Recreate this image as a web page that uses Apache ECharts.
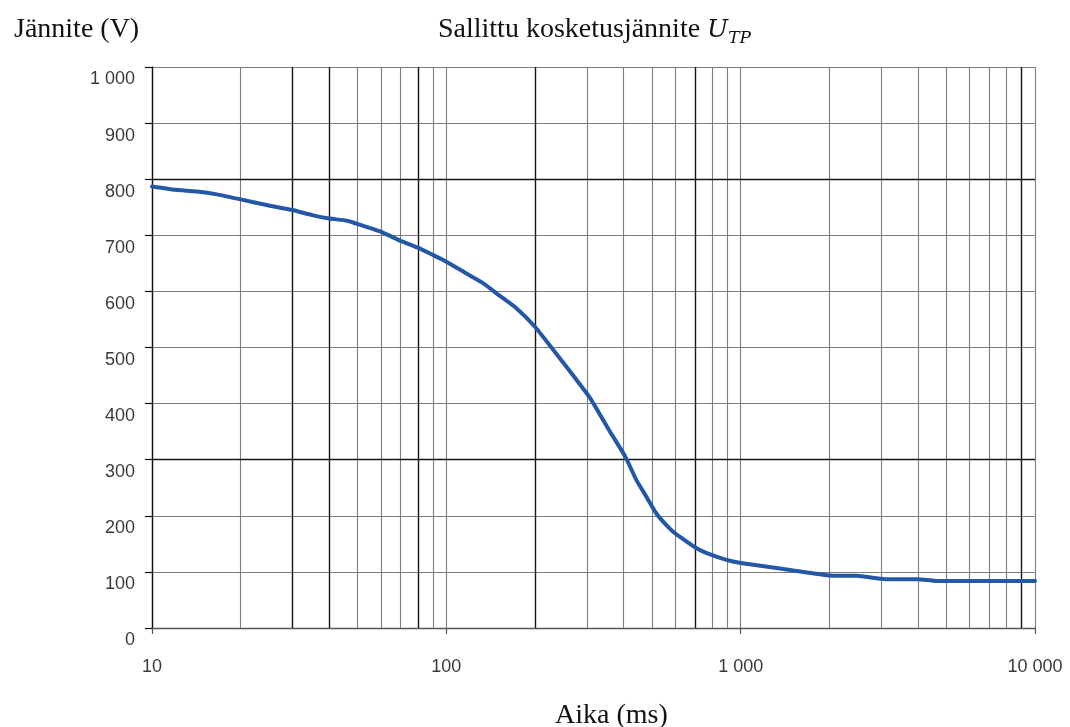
<!DOCTYPE html>
<html>
<head>
<meta charset="utf-8">
<title>Sallittu kosketusjännite</title>
<script src="https://cdn.jsdelivr.net/npm/echarts@6/dist/echarts.min.js"></script>
<style>
  html, body { margin: 0; padding: 0; background: #ffffff; }
  #chart { width: 1070px; height: 727px; }
</style>
</head>
<body>
<div id="chart"></div>
<script>
// Permitted touch voltage U_TP as a function of fault duration
const timesMs = [10, 12, 14.2, 16.6, 20, 24.5, 30, 35, 40, 46, 50, 60, 70, 80, 90, 100,
  117, 134, 152, 173, 200, 226, 261, 306, 328, 357, 406, 442, 482, 517, 580, 631,
  708, 771, 889, 1000, 1400, 1970, 2210, 2480, 3100, 4000, 4600, 10000];
const voltagesV = [787, 781, 778, 773, 764, 754, 745, 736, 730, 726, 720, 706, 690, 678, 665, 653,
  632, 614, 592, 570, 537, 502, 460, 412, 386, 353, 305, 264, 231, 204, 175, 160,
  142, 133, 122, 116, 105, 94, 93, 93, 87, 87, 84, 84];

// Log-paper grid: intermediate time lines, a few of them drawn heavier
const lightTimeLines = [20, 50, 60, 70, 90, 300, 400, 500, 600, 800, 900,
  2000, 3000, 4000, 5000, 6000, 7000, 8000];
const heavyTimeLines = [30, 40, 80, 200, 700, 9000];
const heavyVoltageLines = [300, 800];

// Axis ranges and tick labels
const timeRange = [10, 10000];
const voltageRange = [0, 1000];
const voltageStep = 100;

const fmtThousands = v => String(Math.round(v)).replace(/\B(?=(\d{3})+(?!\d))/g, ' ');

const LIGHT = '#7c7c7c';
const HEAVY = '#161616';

const gridMarks = [];
lightTimeLines.forEach(t => gridMarks.push({ xAxis: t, lineStyle: { color: LIGHT, width: 1.1, type: 'solid' } }));
heavyTimeLines.forEach(t => gridMarks.push({ xAxis: t, lineStyle: { color: HEAVY, width: 1.4, type: 'solid' } }));
heavyVoltageLines.forEach(v => gridMarks.push({ yAxis: v, lineStyle: { color: HEAVY, width: 1.4, type: 'solid' } }));

const serif = { fontFamily: 'Liberation Serif', fontWeight: 'normal', color: '#111111' };
const mathItalic = { fontFamily: 'DejaVu Serif', fontStyle: 'italic', fontWeight: 'normal', color: '#111111' };

const chart = echarts.init(document.getElementById('chart'), null, { renderer: 'canvas' });

chart.setOption({
  animation: false,
  backgroundColor: '#ffffff',
  title: [
    {
      text: 'Jännite (V)',
      left: 9, top: 11,
      textStyle: Object.assign({ fontSize: 28, lineHeight: 28 }, serif)
    },
    {
      text: '{a|Sallittu kosketusjännite }{u|U}{s|TP}',
      left: 433, top: 8,
      textStyle: {
        fontWeight: 'normal',
        rich: {
          a: Object.assign({ fontSize: 28, lineHeight: 34 }, serif),
          u: Object.assign({ fontSize: 25, lineHeight: 34 }, mathItalic),
          s: Object.assign({ fontSize: 17, lineHeight: 19, verticalAlign: 'bottom' }, mathItalic)
        }
      }
    },
    {
      text: 'Aika (ms)',
      left: 550, top: 697,
      textStyle: Object.assign({ fontSize: 28, lineHeight: 28 }, serif)
    }
  ],
  grid: { left: 152, top: 67, width: 883, height: 561, containLabel: false },
  xAxis: {
    type: 'log',
    logBase: 10,
    min: timeRange[0],
    max: timeRange[1],
    axisLine: { show: true, onZero: false, lineStyle: { color: '#555555', width: 1.3 } },
    axisTick: { show: true, length: 6, lineStyle: { color: '#555555', width: 1.2 } },
    axisLabel: {
      margin: 29, lineHeight: 20,
      fontFamily: 'Liberation Sans', fontSize: 18, color: '#3a3a3a',
      formatter: v => fmtThousands(v)
    },
    splitLine: { show: true, lineStyle: { color: LIGHT, width: 1.1 } },
    minorTick: { show: false },
    minorSplitLine: { show: false }
  },
  yAxis: {
    type: 'value',
    min: voltageRange[0],
    max: voltageRange[1],
    interval: voltageStep,
    axisLine: { show: true, lineStyle: { color: '#111111', width: 1.4 } },
    axisTick: { show: true, length: 7, lineStyle: { color: '#111111', width: 1.2 } },
    axisLabel: {
      margin: 17, lineHeight: 25, verticalAlign: 'top',
      fontFamily: 'Liberation Sans', fontSize: 18, color: '#3a3a3a',
      formatter: v => fmtThousands(v)
    },
    splitLine: { show: true, lineStyle: { color: LIGHT, width: 1.1 } }
  },
  series: [
    {
      name: 'grid',
      type: 'line',
      data: [],
      z: 1,
      silent: true,
      markLine: {
        silent: true,
        symbol: ['none', 'none'],
        label: { show: false },
        emphasis: { disabled: true },
        animation: false,
        data: gridMarks
      }
    },
    {
      name: 'U_TP',
      type: 'line',
      z: 5,
      data: timesMs.map((t, i) => [t, voltagesV[i]]),
      showSymbol: false,
      smooth: 0.15,
      lineStyle: { color: '#2457a6', width: 4, cap: 'round', join: 'round' },
      itemStyle: { color: '#2457a6' }
    }
  ]
});
</script>
</body>
</html>
